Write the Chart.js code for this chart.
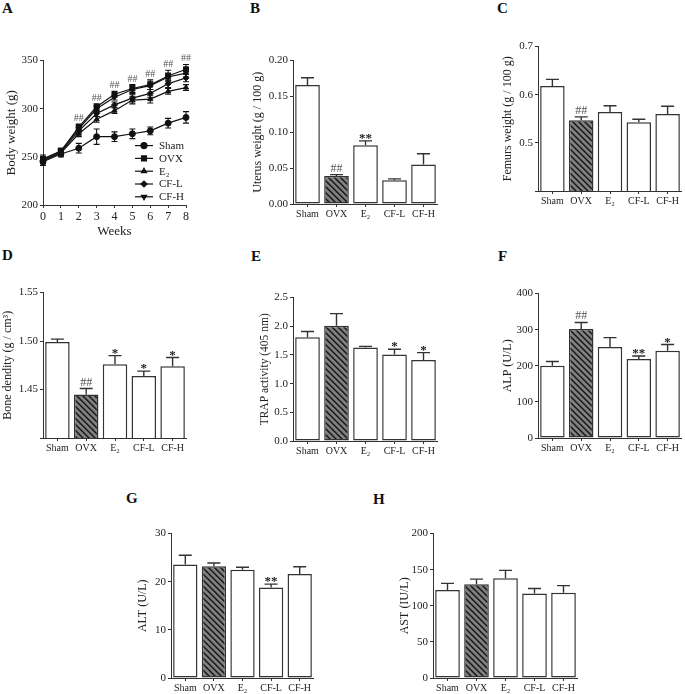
<!DOCTYPE html>
<html>
<head>
<meta charset="utf-8">
<title>Body weight, organ weight and serum markers</title>
<script src="https://cdn.jsdelivr.net/npm/chart.js"></script>
<style>
  html, body { margin: 0; padding: 0; background: #fff; overflow: hidden; }
  body { position: relative; width: 685px; height: 694px; }
  canvas { position: absolute; left: 0; top: 0; }
  .tag { position: absolute; font: bold 15px 'Liberation Serif', serif; line-height: 15px; color: #111; }
</style>
</head>
<body>
<div class="tag" style="left:2px;top:1px">A</div>
<div class="tag" style="left:250px;top:1px">B</div>
<div class="tag" style="left:497px;top:1px">C</div>
<div class="tag" style="left:2px;top:248px">D</div>
<div class="tag" style="left:251px;top:249px">E</div>
<div class="tag" style="left:498px;top:249px">F</div>
<div class="tag" style="left:126px;top:491px">G</div>
<div class="tag" style="left:373px;top:492px">H</div>

<canvas id="chartA" width="220" height="220"></canvas>
<canvas id="chartB" width="220" height="220"></canvas>
<canvas id="chartC" width="220" height="220"></canvas>
<canvas id="chartD" width="220" height="220"></canvas>
<canvas id="chartE" width="220" height="220"></canvas>
<canvas id="chartF" width="220" height="220"></canvas>
<canvas id="chartG" width="220" height="220"></canvas>
<canvas id="chartH" width="220" height="220"></canvas>

<script>
/*=============== DATA ===============*/
const groups = ['Sham', 'OVX', 'E₂', 'CF-L', 'CF-H']

// A - body weight over 8 weeks
const weeks = [0, 1, 2, 3, 4, 5, 6, 7, 8]
const weekSig = ['', '', '##', '##', '##', '##', '##', '##', '##']
const shamBW = [245, 253, 259, 271, 271, 274, 277, 285, 291]
const shamBWErr = [4, 3, 5, 8, 5, 5, 4, 5, 6]
const ovxBW = [248, 256, 281, 302, 315, 321, 325, 334, 341]
const ovxBWErr = [4, 3, 3, 3, 3, 4, 5, 6, 5]
const e2BW = [246, 254, 274, 289, 298, 309, 310, 318, 322]
const e2BWErr = [3, 3, 3, 3, 3, 4, 4, 3, 3]
const cflBW = [246, 255, 277, 295, 304, 311, 316, 326, 332]
const cflBWErr = [3, 3, 3, 3, 3, 4, 4, 4, 4]
const cfhBW = [247, 256, 279, 300, 312, 320, 324, 333, 337]
const cfhBWErr = [3, 3, 3, 3, 3, 4, 4, 4, 4]

// B - uterus weight
const uterus = [0.166, 0.039, 0.082, 0.033, 0.055]
const uterusErr = [0.010, 0.002, 0.006, 0.002, 0.015]
const uterusSig = ['', '##', '**', '', '']

// C - femurs weight
const femur = [0.618, 0.547, 0.564, 0.543, 0.560]
const femurErr = [0.014, 0.007, 0.013, 0.006, 0.016]
const femurSig = ['', '##', '', '', '']

// D - bone density
const density = [1.499, 1.445, 1.476, 1.464, 1.474]
const densityErr = [0.003, 0.006, 0.009, 0.005, 0.009]
const densitySig = ['', '##', '*', '*', '*']

// E - TRAP activity
const trap = [1.81, 2.01, 1.63, 1.51, 1.41]
const trapErr = [0.10, 0.21, 0.02, 0.09, 0.13]
const trapSig = ['', '', '', '*', '*']

// F - ALP
const alp = [200, 302, 252, 219, 242]
const alpErr = [12, 18, 26, 8, 17]
const alpSig = ['', '##', '', '**', '*']

// G - ALT
const alt = [23.6, 23.2, 22.5, 18.8, 21.6]
const altErr = [1.9, 0.7, 0.5, 0.7, 1.5]
const altSig = ['', '', '', '**', '']

// H - AST
const ast = [122, 130, 138, 117, 118]
const astErr = [9, 7, 11, 7, 10]
const astSig = ['', '', '', '', '']

/*=============== STYLE HELPERS ===============*/
const serif = "'Liberation Serif', 'Times New Roman', serif"
const axisColor = '#333'
const textColor = '#222'

// gray fill with dark "\" hatching for the OVX bars
const makeHatch = () =>{
  const tile = document.createElement('canvas')
  tile.width = 6
  tile.height = 6
  const g = tile.getContext('2d')
  g.fillStyle = '#808080'
  g.fillRect(0, 0, 6, 6)
  g.strokeStyle = '#141414'
  g.lineWidth = 1.4
  g.beginPath()
  g.moveTo(-1, -1); g.lineTo(7, 7)
  g.moveTo(-1, 5);  g.lineTo(1, 7)
  g.moveTo(5, -1);  g.lineTo(7, 1)
  g.stroke()
  return g.createPattern(tile, 'repeat')
}
const hatch = makeHatch()

const sigText = (ctx, text, x, yTop) =>{
  if (!text) return
  ctx.textAlign = 'center'
  ctx.textBaseline = 'alphabetic'
  if (text[0] === '#') {
    ctx.font = `12px ${serif}`
    ctx.fillStyle = '#555'
    ctx.fillText(text, x, yTop - 3)
  } else {
    ctx.font = `bold 13px ${serif}`
    ctx.fillStyle = '#222'
    ctx.fillText(text, x, yTop + 1)
  }
}

// upward error bar + significance mark for a bar panel
const barErrors = (errors, sig) => ({
  id: 'barErrors',
  afterDatasetsDraw(chart) {
    const {ctx, scales: {y}} = chart
    const values = chart.data.datasets[0].data
    ctx.save()
    ctx.strokeStyle = axisColor
    ctx.lineWidth = 1.4
    chart.getDatasetMeta(0).data.forEach((bar, i) =>{
      const top = y.getPixelForValue(values[i] + errors[i])
      ctx.beginPath()
      ctx.moveTo(bar.x, bar.y)
      ctx.lineTo(bar.x, top)
      ctx.moveTo(bar.x - 6.5, top)
      ctx.lineTo(bar.x + 6.5, top)
      ctx.stroke()
      sigText(ctx, sig[i], bar.x, top)
    })
    ctx.restore()
  }
})

// move/resize a canvas so that its plot area lands on the given box
const place = (chart, canvas, box) =>{
  for (let k = 0; k < 2; k++) {
    const a = chart.chartArea
    const w = Math.round(chart.width + (box.r - box.l) - (a.right - a.left))
    const h = Math.round(chart.height + (box.b - box.t) - (a.bottom - a.top))
    chart.resize(w, h)
  }
  const a = chart.chartArea
  canvas.style.left = Math.round(box.l - a.left) + 'px'
  canvas.style.top = Math.round(box.t - a.top) + 'px'
}

const axisGrid = (extra) => Object.assign({
  drawOnChartArea: false, tickLength: 3, color: axisColor, lineWidth: 1
}, extra || {})

/*=============== BAR PANELS ===============*/
const barPanel = (id, box, d) =>{
  const canvas = document.getElementById(id)
  const chart = new Chart(canvas, {
    type: 'bar',
    data: {
      labels: groups,
      datasets: [{
        data: d.values,
        backgroundColor: groups.map((g, i) => i === 1 ? hatch : '#fff'),
        borderColor: axisColor,
        borderWidth: 1.5,
        borderSkipped: false,
        barPercentage: 0.85,
        categoryPercentage: 1
      }]
    },
    options: {
      responsive: false,
      maintainAspectRatio: false,
      animation: false,
      events: [],
      layout: { padding: 0 },
      plugins: { legend: { display: false }, tooltip: { enabled: false } },
      scales: {
        x: {
          grid: axisGrid({ offset: false }),
          border: { color: axisColor },
          ticks: { font: { family: serif, size: 10 }, color: textColor, padding: 1, maxRotation: 0, autoSkip: false },
          afterFit: (s) => { s.height = 22 }
        },
        y: {
          min: d.min,
          max: d.max,
          grid: axisGrid(),
          border: { color: axisColor },
          ticks: {
            stepSize: d.step,
            font: { family: serif, size: 11 },
            color: textColor,
            padding: 2,
            callback: (v) => (d.hideMin && Math.abs(v - d.min) < 1e-9) ? '' : v.toFixed(d.dec)
          },
          title: { display: true, text: d.title, font: { family: serif, size: d.titleSize || 12 }, color: textColor, padding: 0 },
          afterFit: (s) => { s.width = d.yw }
        }
      }
    },
    plugins: [barErrors(d.errors, d.sig)]
  })
  place(chart, canvas, box)
}

barPanel('chartB', { l: 293, t: 61, r: 438, b: 204 }, {
  values: uterus, errors: uterusErr, sig: uterusSig,
  min: 0, max: 0.2, step: 0.05, dec: 2, yw: 42,
  title: 'Uterus weight (g / 100 g)'
})

barPanel('chartC', { l: 538, t: 47, r: 682, b: 191 }, {
  values: femur, errors: femurErr, sig: femurSig,
  min: 0.4, max: 0.7, step: 0.1, dec: 1, hideMin: true, yw: 37,
  title: 'Femurs weight (g / 100 g)'
})

barPanel('chartD', { l: 43, t: 293, r: 187, b: 438 }, {
  values: density, errors: densityErr, sig: densitySig,
  min: 1.40, max: 1.55, step: 0.05, dec: 2, hideMin: true, yw: 42,
  title: 'Bone dendity (g / cm³)'
})

barPanel('chartE', { l: 293, t: 298, r: 438, b: 441 }, {
  values: trap, errors: trapErr, sig: trapSig,
  min: 0, max: 2.5, step: 0.5, dec: 1, yw: 35, titleSize: 11.5,
  title: 'TRAP activity (405 nm)'
})

barPanel('chartF', { l: 538, t: 294, r: 682, b: 438 }, {
  values: alp, errors: alpErr, sig: alpSig,
  min: 0, max: 400, step: 100, dec: 0, yw: 37,
  title: 'ALP (U/L)'
})

barPanel('chartG', { l: 171, t: 534, r: 314, b: 678 }, {
  values: alt, errors: altErr, sig: altSig,
  min: 0, max: 30, step: 10, dec: 0, yw: 35,
  title: 'ALT (U/L)'
})

barPanel('chartH', { l: 433, t: 534, r: 578, b: 678 }, {
  values: ast, errors: astErr, sig: astSig,
  min: 0, max: 200, step: 50, dec: 0, yw: 35,
  title: 'AST (IU/L)'
})

/*=============== LINE PANEL (A) ===============*/
const lineErrors = [shamBWErr, ovxBWErr, e2BWErr, cflBWErr, cfhBWErr]

const weekErrors = {
  id: 'weekErrors',
  afterDatasetsDraw(chart) {
    const {ctx, scales: {x, y}} = chart
    ctx.save()
    ctx.strokeStyle = '#111'
    ctx.lineWidth = 1.1
    const tops = weeks.map(() => Infinity)
    chart.data.datasets.forEach((ds, di) =>{
      ds.data.forEach((v, i) =>{
        const px = x.getPixelForValue(weeks[i])
        const hi = y.getPixelForValue(v + lineErrors[di][i])
        const lo = y.getPixelForValue(v - lineErrors[di][i])
        ctx.beginPath()
        ctx.moveTo(px, lo); ctx.lineTo(px, hi)
        ctx.moveTo(px - 3, hi); ctx.lineTo(px + 3, hi)
        ctx.moveTo(px - 3, lo); ctx.lineTo(px + 3, lo)
        ctx.stroke()
        tops[i] = Math.min(tops[i], hi)
      })
    })
    ctx.font = `10px ${serif}`
    ctx.fillStyle = '#555'
    ctx.textAlign = 'center'
    ctx.textBaseline = 'alphabetic'
    weekSig.forEach((s, i) =>{
      if (s) ctx.fillText(s, x.getPixelForValue(weeks[i]), tops[i] - 3)
    })
    ctx.restore()
  }
}

// legend drawn inside the plot, lower right
const legendA = {
  id: 'legendA',
  afterDraw(chart) {
    const {ctx, chartArea: a} = chart
    ctx.save()
    chart.data.datasets.forEach((ds, i) =>{
      const y = a.top + 85 + i * 12.8
      const x0 = a.left + 92
      ctx.strokeStyle = '#111'
      ctx.fillStyle = '#111'
      ctx.lineWidth = 1.2
      ctx.beginPath()
      ctx.moveTo(x0, y); ctx.lineTo(x0 + 18, y)
      ctx.stroke()
      Chart.helpers.drawPoint(ctx, {
        pointStyle: ds.pointStyle, rotation: ds.pointRotation || 0, radius: ds.pointRadius, borderWidth: 1
      }, x0 + 9, y)
      ctx.font = `11px ${serif}`
      ctx.fillStyle = textColor
      ctx.textAlign = 'left'
      ctx.textBaseline = 'middle'
      ctx.fillText(ds.label, x0 + 24, y + 0.5)
    })
    ctx.restore()
  }
}

const lineSet = (label, data, pointStyle, extra) => Object.assign({
  label,
  data,
  pointStyle,
  borderColor: '#111',
  borderWidth: 1.2,
  pointRadius: 3,
  pointBackgroundColor: '#111',
  pointBorderColor: '#111',
  pointBorderWidth: 1,
  tension: 0,
  fill: false,
  clip: false
}, extra || {})

const canvasA = document.getElementById('chartA')
const chartA = new Chart(canvasA, {
  type: 'line',
  data: {
    labels: weeks,
    datasets: [
      lineSet(groups[0], shamBW, 'circle'),
      lineSet(groups[1], ovxBW, 'rect', { pointRadius: 3.5 }),
      lineSet(groups[2], e2BW, 'triangle'),
      lineSet(groups[3], cflBW, 'rectRot'),
      lineSet(groups[4], cfhBW, 'triangle', { pointRotation: 180 })
    ]
  },
  options: {
    responsive: false,
    maintainAspectRatio: false,
    animation: false,
    events: [],
    layout: { padding: 0 },
    plugins: { legend: { display: false }, tooltip: { enabled: false } },
    scales: {
      x: {
        type: 'linear',
        min: 0,
        max: 8,
        grid: axisGrid(),
        border: { color: axisColor },
        ticks: { stepSize: 1, font: { family: serif, size: 12 }, color: textColor, padding: 2 },
        title: { display: true, text: 'Weeks', font: { family: serif, size: 13 }, color: textColor, padding: 0 },
        afterFit: (s) => { s.height = 34 }
      },
      y: {
        min: 200,
        max: 350,
        grid: axisGrid(),
        border: { color: axisColor },
        ticks: { stepSize: 50, font: { family: serif, size: 11 }, color: textColor, padding: 2 },
        title: { display: true, text: 'Body weight (g)', font: { family: serif, size: 13 }, color: textColor, padding: 0 },
        afterFit: (s) => { s.width = 39 }
      }
    }
  },
  plugins: [weekErrors, legendA]
})
place(chartA, canvasA, { l: 43, t: 61, r: 186, b: 205 })
</script>
</body>
</html>
